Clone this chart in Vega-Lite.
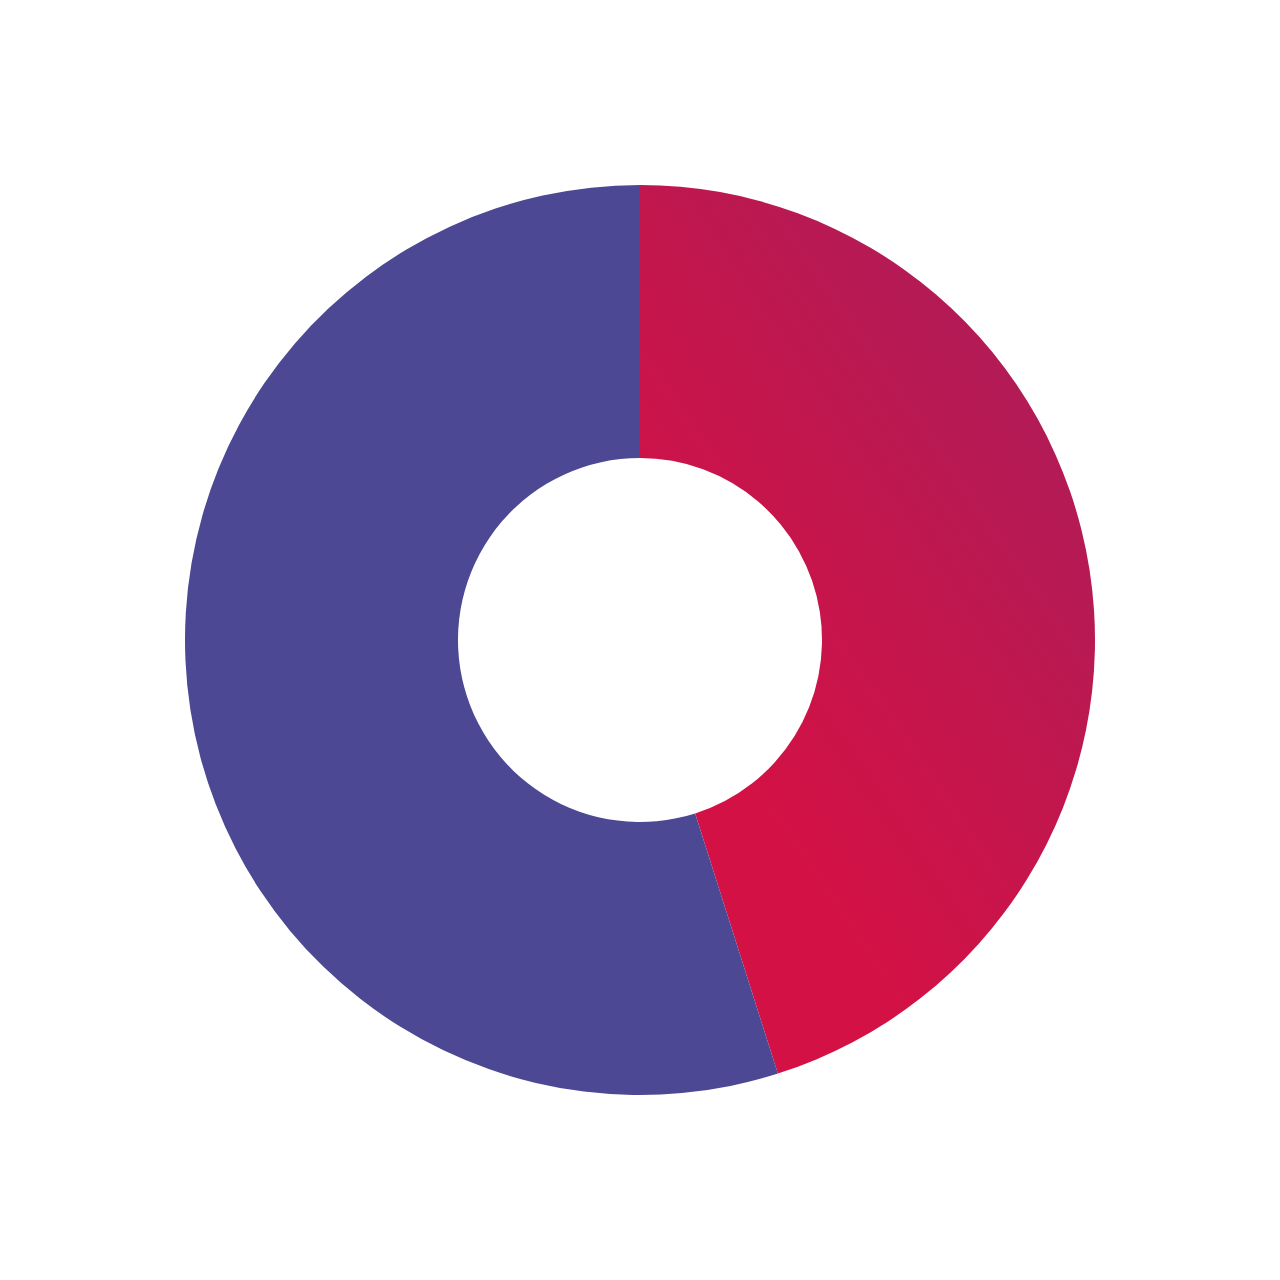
{
  "$schema": "https://vega.github.io/schema/vega-lite/v6.json",
  "description": "Donut chart with two segments",
  "width": 1280,
  "height": 1280,
  "autosize": {"type": "fit", "contains": "padding"},
  "padding": 0,
  "background": "#ffffff",
  "view": {"stroke": null},
  "data": {
    "values": [
      {"segment": "A", "share": 45.1, "rank": 1},
      {"segment": "B", "share": 54.9, "rank": 2}
    ]
  },
  "mark": {"type": "arc", "outerRadius": 455, "innerRadius": 182, "stroke": null},
  "encoding": {
    "theta": {"field": "share", "type": "quantitative", "stack": true},
    "order": {"field": "rank", "type": "quantitative"},
    "fill": {
      "condition": {
        "test": "datum.segment == 'A'",
        "value": {
          "gradient": "linear",
          "x1": 1, "y1": 0, "x2": 0.4, "y2": 0.8,
          "stops": [
            {"offset": 0, "color": "#A61F5C"},
            {"offset": 1, "color": "#D31145"}
          ]
        }
      },
      "value": "#4C4893"
    }
  }
}
